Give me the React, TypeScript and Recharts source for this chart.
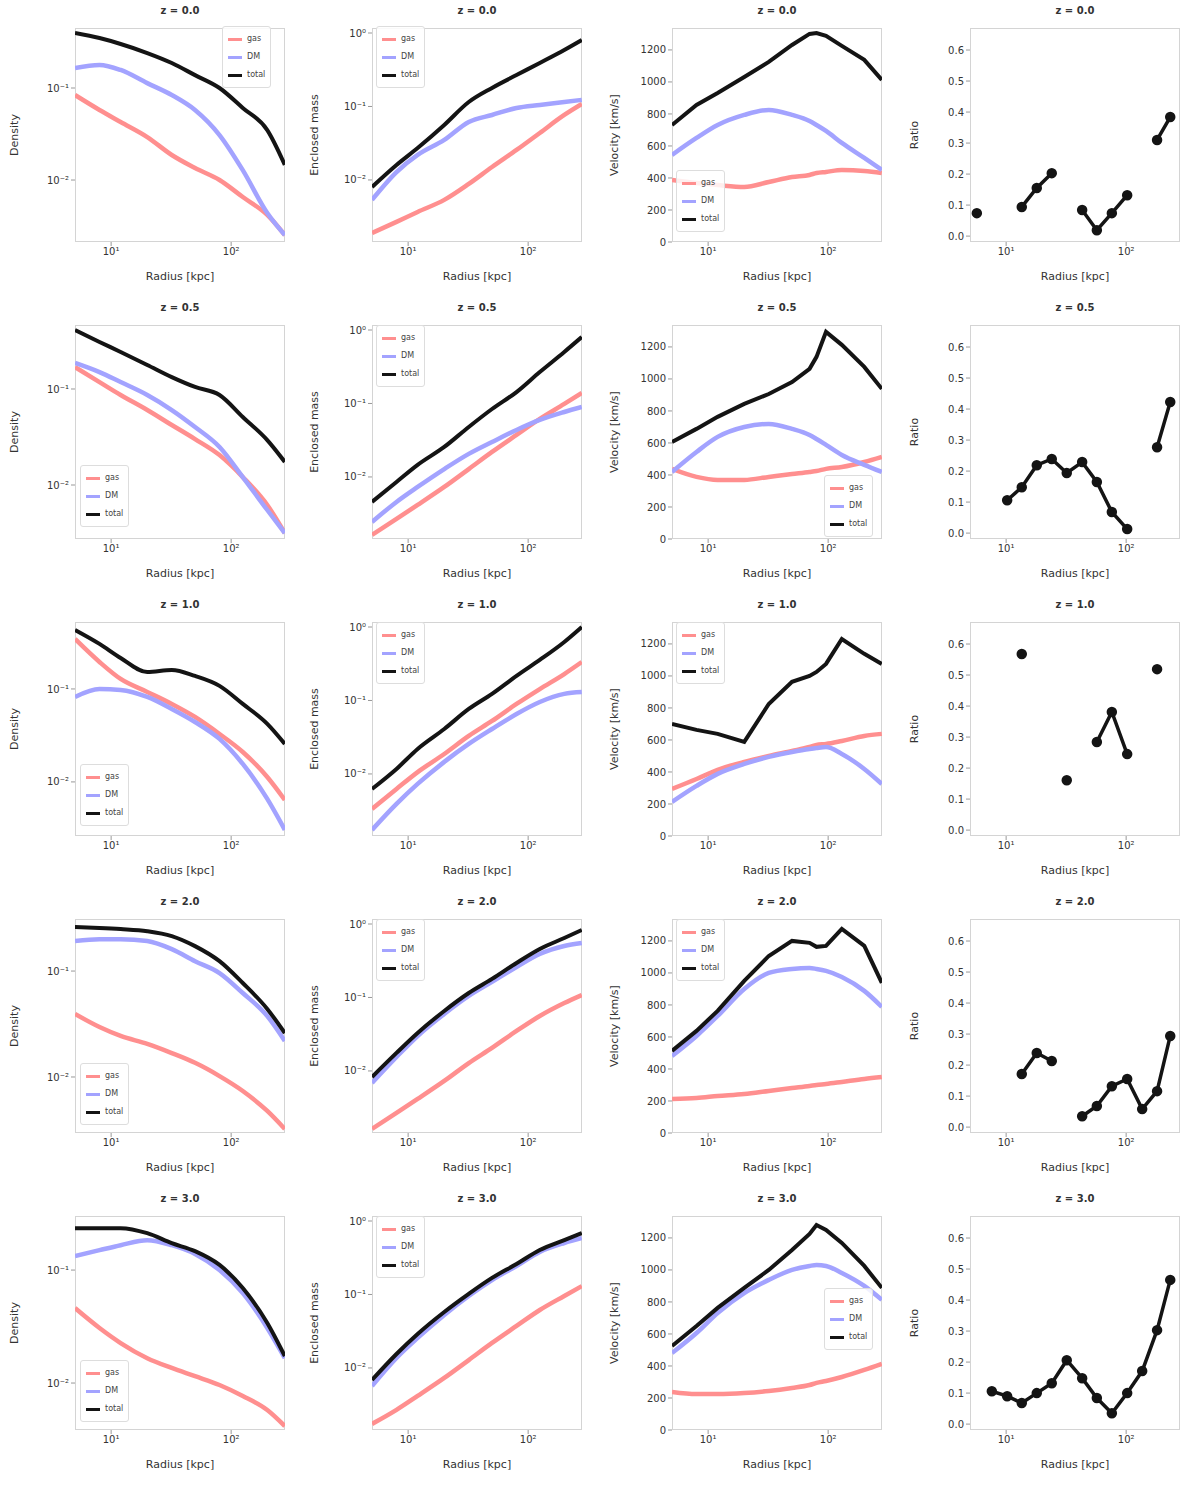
import { LineChart, Line, XAxis, YAxis } from "recharts";

// radii sampled for the profile panels
const RADII = [5, 8, 12, 20, 32, 50, 80, 125, 200, 280];
const RADII_V = [5, 8, 12, 20, 32, 50, 70, 80, 96, 130, 200, 280];
const RADII_R = [5.7, 7.6, 10.2, 13.5, 18, 24, 32, 43, 57, 76, 102, 136, 181, 233, 281];

const TITLES = ["z = 0.0", "z = 0.5", "z = 1.0", "z = 2.0", "z = 3.0"];
const Y_LABELS = ["Density", "Enclosed mass", "Velocity [km/s]", "Ratio"];
const X_LABEL = "Radius [kpc]";
const LEGEND_NAMES = ["gas", "DM", "total"];

// column 1: density profiles (rows 1-5)
const DENS_TOTAL = [
  [0.396, 0.349, 0.301, 0.24, 0.187, 0.138, 0.1, 0.0607, 0.0349, 0.0146],
  [0.412, 0.309, 0.243, 0.178, 0.133, 0.105, 0.0866, 0.0511, 0.0294, 0.0174],
  [0.431, 0.305, 0.215, 0.152, 0.16, 0.138, 0.108, 0.069, 0.0421, 0.0256],
  [0.26, 0.255, 0.249, 0.238, 0.214, 0.172, 0.124, 0.0771, 0.0439, 0.026],
  [0.235, 0.235, 0.235, 0.212, 0.173, 0.147, 0.111, 0.0693, 0.034, 0.0173],
];
const DENS_DM = [
  [0.165, 0.178, 0.157, 0.113, 0.0839, 0.0577, 0.0308, 0.0128, 0.00437, 0.00252],
  [0.187, 0.15, 0.118, 0.0866, 0.0604, 0.0402, 0.0249, 0.0121, 0.00549, 0.00316],
  [0.082, 0.1, 0.0976, 0.082, 0.0609, 0.0441, 0.029, 0.0156, 0.00656, 0.00305],
  [0.192, 0.2, 0.2, 0.192, 0.161, 0.124, 0.0958, 0.062, 0.0376, 0.0219],
  [0.133, 0.15, 0.166, 0.184, 0.166, 0.139, 0.1, 0.0625, 0.0307, 0.0166],
];
const DENS_GAS = [
  [0.0839, 0.0577, 0.0427, 0.0293, 0.0187, 0.0135, 0.01, 0.00653, 0.00417, 0.00252],
  [0.169, 0.118, 0.0866, 0.0604, 0.0422, 0.0301, 0.0205, 0.0121, 0.00619, 0.00316],
  [0.345, 0.195, 0.128, 0.0929, 0.069, 0.05, 0.0328, 0.021, 0.0113, 0.0064],
  [0.0393, 0.0296, 0.0244, 0.0205, 0.0168, 0.0136, 0.0102, 0.00738, 0.00478, 0.00323],
  [0.0461, 0.0307, 0.0226, 0.0166, 0.0136, 0.0115, 0.0096, 0.00767, 0.00577, 0.00416],
];
const DENS_DOMAIN = [
  [0.00212, 0.449],
  [0.00274, 0.464],
  [0.00262, 0.525],
  [0.00296, 0.31],
  [0.00384, 0.301],
];

// column 2: enclosed mass
const MASS_TOTAL = [
  [0.00803, 0.016, 0.0272, 0.056, 0.115, 0.179, 0.268, 0.391, 0.587, 0.803],
  [0.00457, 0.00855, 0.0146, 0.0256, 0.0479, 0.0841, 0.143, 0.268, 0.502, 0.803],
  [0.00625, 0.0117, 0.0219, 0.0409, 0.0766, 0.123, 0.216, 0.356, 0.625, 1.0],
  [0.00828, 0.0176, 0.0329, 0.0655, 0.115, 0.179, 0.295, 0.457, 0.645, 0.829],
  [0.00687, 0.0155, 0.029, 0.0578, 0.102, 0.168, 0.26, 0.403, 0.551, 0.687],
];
const MASS_DM = [
  [0.00535, 0.0128, 0.0219, 0.035, 0.0615, 0.0766, 0.0955, 0.105, 0.115, 0.123],
  [0.00244, 0.00457, 0.00731, 0.0128, 0.0206, 0.0299, 0.0436, 0.0597, 0.0766, 0.0896],
  [0.00173, 0.00391, 0.00731, 0.0146, 0.0256, 0.0409, 0.0655, 0.0955, 0.123, 0.13],
  [0.00687, 0.0155, 0.0299, 0.0597, 0.105, 0.163, 0.26, 0.391, 0.502, 0.551],
  [0.00569, 0.0137, 0.0256, 0.0526, 0.0955, 0.157, 0.244, 0.379, 0.502, 0.587],
];
const MASS_GAS = [
  [0.0019, 0.00269, 0.00367, 0.00535, 0.00883, 0.015, 0.0256, 0.0436, 0.0766, 0.108],
  [0.00163, 0.00269, 0.00416, 0.00731, 0.0128, 0.0219, 0.0373, 0.0615, 0.0985, 0.139],
  [0.00334, 0.00625, 0.0106, 0.0187, 0.0329, 0.0526, 0.0896, 0.143, 0.229, 0.334],
  [0.00163, 0.00269, 0.00416, 0.00731, 0.0128, 0.0206, 0.035, 0.056, 0.0841, 0.108],
  [0.00173, 0.00269, 0.00416, 0.00731, 0.0128, 0.0219, 0.0373, 0.0615, 0.0955, 0.13],
];

// column 3: velocity
const VEL_TOTAL = [
  [731, 856, 931, 1031, 1125, 1231, 1300, 1306, 1288, 1225, 1138, 1013],
  [606, 688, 763, 844, 906, 981, 1063, 1138, 1294, 1213, 1075, 938],
  [700, 663, 638, 588, 825, 963, 1000, 1025, 1075, 1231, 1138, 1075],
  [513, 638, 763, 950, 1106, 1200, 1188, 1163, 1169, 1275, 1169, 938],
  [525, 650, 763, 888, 1000, 1125, 1225, 1281, 1250, 1169, 1025, 888],
];
const VEL_DM = [
  [544, 650, 731, 794, 825, 794, 756, 731, 694, 619, 525, 450],
  [419, 544, 638, 700, 719, 688, 650, 625, 588, 525, 463, 419],
  [213, 313, 388, 450, 494, 525, 544, 550, 556, 513, 419, 325],
  [481, 606, 731, 900, 1000, 1025, 1031, 1025, 1013, 975, 888, 788],
  [481, 606, 731, 856, 938, 1000, 1025, 1031, 1025, 981, 900, 813],
];
const VEL_GAS = [
  [388, 369, 356, 344, 375, 406, 419, 431, 438, 450, 444, 431],
  [438, 388, 369, 369, 388, 406, 419, 425, 438, 450, 481, 513],
  [294, 356, 413, 463, 500, 531, 556, 569, 575, 594, 625, 638],
  [213, 219, 231, 244, 263, 281, 294, 300, 306, 319, 338, 350],
  [238, 225, 225, 231, 244, 263, 281, 294, 306, 331, 375, 413],
];

// column 4: ratio (gaps are missing bins)
const RATIO = [
  [0.074, null, null, 0.094, 0.155, 0.203, null, 0.084, 0.019, 0.074, 0.132, null, 0.31, 0.384, null],
  [null, null, 0.106, 0.148, 0.219, 0.239, 0.194, 0.229, 0.165, 0.068, 0.013, null, 0.277, 0.423, null],
  [null, null, null, 0.568, null, null, 0.161, null, 0.284, 0.381, 0.245, null, 0.519, null, null],
  [null, null, null, 0.171, 0.239, 0.213, null, 0.035, 0.068, 0.132, 0.155, 0.058, 0.116, 0.294, null],
  [null, 0.106, 0.09, 0.068, 0.1, 0.132, 0.206, 0.148, 0.084, 0.035, 0.1, 0.171, 0.303, 0.465, null],
];

const X_TICKS = [10, 100];
const DENS_TICKS = [0.01, 0.1];
const MASS_TICKS = [0.01, 0.1, 1];
const VEL_TICKS = [0, 200, 400, 600, 800, 1000, 1200];
const RATIO_TICKS = [0, 0.1, 0.2, 0.3, 0.4, 0.5, 0.6];

const ROW_H = 297;
const COL_W = 300;
const PLOT_LEFT = [75, 72, 72, 70];
const PLOT_TOP = 28;
const PLOT_W = 210;
const PLOT_H = 214;
const Y_AXIS_W = 40;
const X_AXIS_H = 20;

const RED = "#ff8f8f";
const BLUE = "#a3a3ff";
const BLACK = "#141414";

const LEGEND_POS = [
  [[222, 26], [76, 26], [76, 170]],
  [[80, 168], [76, 28], [224, 178]],
  [[80, 170], [76, 28], [76, 28]],
  [[80, 172], [76, 28], [76, 28]],
  [[80, 172], [76, 28], [224, 100]],
];

const SUP: Record<string, string> = {
  "0.01": "10⁻²",
  "0.1": "10⁻¹",
  "1": "10⁰",
  "10": "10¹",
  "100": "10²",
};
const fmtPow = (v: number) => SUP[String(v)] ?? String(v);

const tickStyle = { fontSize: 10, fill: "#333", fontFamily: "DejaVu Sans" };

function LegendBox({ left, top }: { left: number; top: number }) {
  const colors = [RED, BLUE, BLACK];
  return (
    <div
      style={{
        position: "absolute",
        left,
        top,
        padding: "3px 5px",
        background: "rgba(255,255,255,0.85)",
        border: "1px solid #ddd",
        borderRadius: 3,
        fontFamily: "DejaVu Sans",
        fontSize: 8,
        color: "#444",
        lineHeight: "18px",
      }}
    >
      {LEGEND_NAMES.map((name, i) => (
        <div key={name} style={{ display: "flex", alignItems: "center" }}>
          <span
            style={{
              display: "inline-block",
              width: 14,
              height: 3,
              background: colors[i],
              marginRight: 5,
            }}
          />
          {name}
        </div>
      ))}
    </div>
  );
}

function Panel({ row, col }: { row: number; col: number }) {
  const left = PLOT_LEFT[col];
  let data: any[] = [];
  let yProps: any = {};
  let lineType: "monotone" | "linear" = "monotone";

  if (col === 0) {
    data = RADII.map((x, i) => ({
      x,
      gas: DENS_GAS[row][i],
      dm: DENS_DM[row][i],
      total: DENS_TOTAL[row][i],
    }));
    yProps = { scale: "log", domain: DENS_DOMAIN[row], ticks: DENS_TICKS, tickFormatter: fmtPow };
  } else if (col === 1) {
    data = RADII.map((x, i) => ({
      x,
      gas: MASS_GAS[row][i],
      dm: MASS_DM[row][i],
      total: MASS_TOTAL[row][i],
    }));
    yProps = { scale: "log", domain: [0.00143, 1.17], ticks: MASS_TICKS, tickFormatter: fmtPow };
  } else if (col === 2) {
    data = RADII_V.map((x, i) => ({
      x,
      gas: VEL_GAS[row][i],
      dm: VEL_DM[row][i],
      total: VEL_TOTAL[row][i],
    }));
    yProps = { scale: "linear", domain: [0, 1337], ticks: VEL_TICKS };
    lineType = "linear";
  } else {
    data = RADII_R.map((x, i) => ({ x, total: RATIO[row][i] }));
    yProps = {
      scale: "linear",
      domain: [-0.019, 0.671],
      ticks: RATIO_TICKS,
      tickFormatter: (v: number) => v.toFixed(1),
    };
    lineType = "linear";
  }

  const legend = col < 3 ? LEGEND_POS[row][col] : null;

  return (
    <div
      style={{
        position: "absolute",
        left: col * COL_W,
        top: row * ROW_H,
        width: COL_W,
        height: ROW_H,
      }}
    >
      <div
        style={{
          position: "absolute",
          left,
          top: PLOT_TOP,
          width: PLOT_W,
          height: PLOT_H,
          border: "1px solid #d4d4d4",
          boxSizing: "border-box",
        }}
      />
      <LineChart
        width={COL_W}
        height={ROW_H}
        data={data}
        margin={{
          top: PLOT_TOP,
          left: left - Y_AXIS_W,
          right: COL_W - left - PLOT_W,
          bottom: ROW_H - PLOT_TOP - PLOT_H - X_AXIS_H,
        }}
      >
        <XAxis
          dataKey="x"
          type="number"
          scale="log"
          domain={[5, 281]}
          ticks={X_TICKS}
          tickFormatter={fmtPow}
          allowDataOverflow
          height={X_AXIS_H}
          axisLine={false}
          tickLine={{ stroke: "#999" }}
          tickSize={4}
          tick={tickStyle}
        />
        <YAxis
          type="number"
          width={Y_AXIS_W}
          allowDataOverflow
          axisLine={false}
          tickLine={{ stroke: "#999" }}
          tickSize={4}
          tick={tickStyle}
          {...yProps}
        />
        {col < 3 && (
          <Line
            dataKey="gas"
            type="monotone"
            stroke={RED}
            strokeWidth={4.5}
            dot={false}
            isAnimationActive={false}
          />
        )}
        {col < 3 && (
          <Line
            dataKey="dm"
            type="monotone"
            stroke={BLUE}
            strokeWidth={4.5}
            dot={false}
            isAnimationActive={false}
          />
        )}
        <Line
          dataKey="total"
          type={lineType}
          stroke={BLACK}
          strokeWidth={col === 3 ? 3.5 : 4}
          dot={col === 3 ? { r: 3.5, fill: BLACK, stroke: BLACK } : false}
          connectNulls={false}
          isAnimationActive={false}
        />
      </LineChart>
      {legend && <LegendBox left={legend[0]} top={legend[1]} />}
      <div
        style={{
          position: "absolute",
          left,
          width: PLOT_W,
          top: 5,
          textAlign: "center",
          fontFamily: "DejaVu Sans",
          fontSize: 10,
          fontWeight: "bold",
          color: "#333",
        }}
      >
        {TITLES[row]}
      </div>
      <div
        style={{
          position: "absolute",
          left,
          width: PLOT_W,
          top: 270,
          textAlign: "center",
          fontFamily: "DejaVu Sans",
          fontSize: 11,
          color: "#333",
        }}
      >
        {X_LABEL}
      </div>
      <div
        style={{
          position: "absolute",
          left: 14,
          top: PLOT_TOP + PLOT_H / 2,
          transform: "translate(-50%, -50%) rotate(-90deg)",
          whiteSpace: "nowrap",
          fontFamily: "DejaVu Sans",
          fontSize: 11,
          color: "#333",
        }}
      >
        {Y_LABELS[col]}
      </div>
    </div>
  );
}

export default function App() {
  const rows = [0, 1, 2, 3, 4];
  const cols = [0, 1, 2, 3];
  return (
    <div
      style={{
        position: "absolute",
        left: 0,
        top: 0,
        width: 1200,
        height: 1488,
        background: "#fff",
      }}
    >
      {rows.map((r) => cols.map((c) => <Panel key={`${r}-${c}`} row={r} col={c} />))}
    </div>
  );
}
